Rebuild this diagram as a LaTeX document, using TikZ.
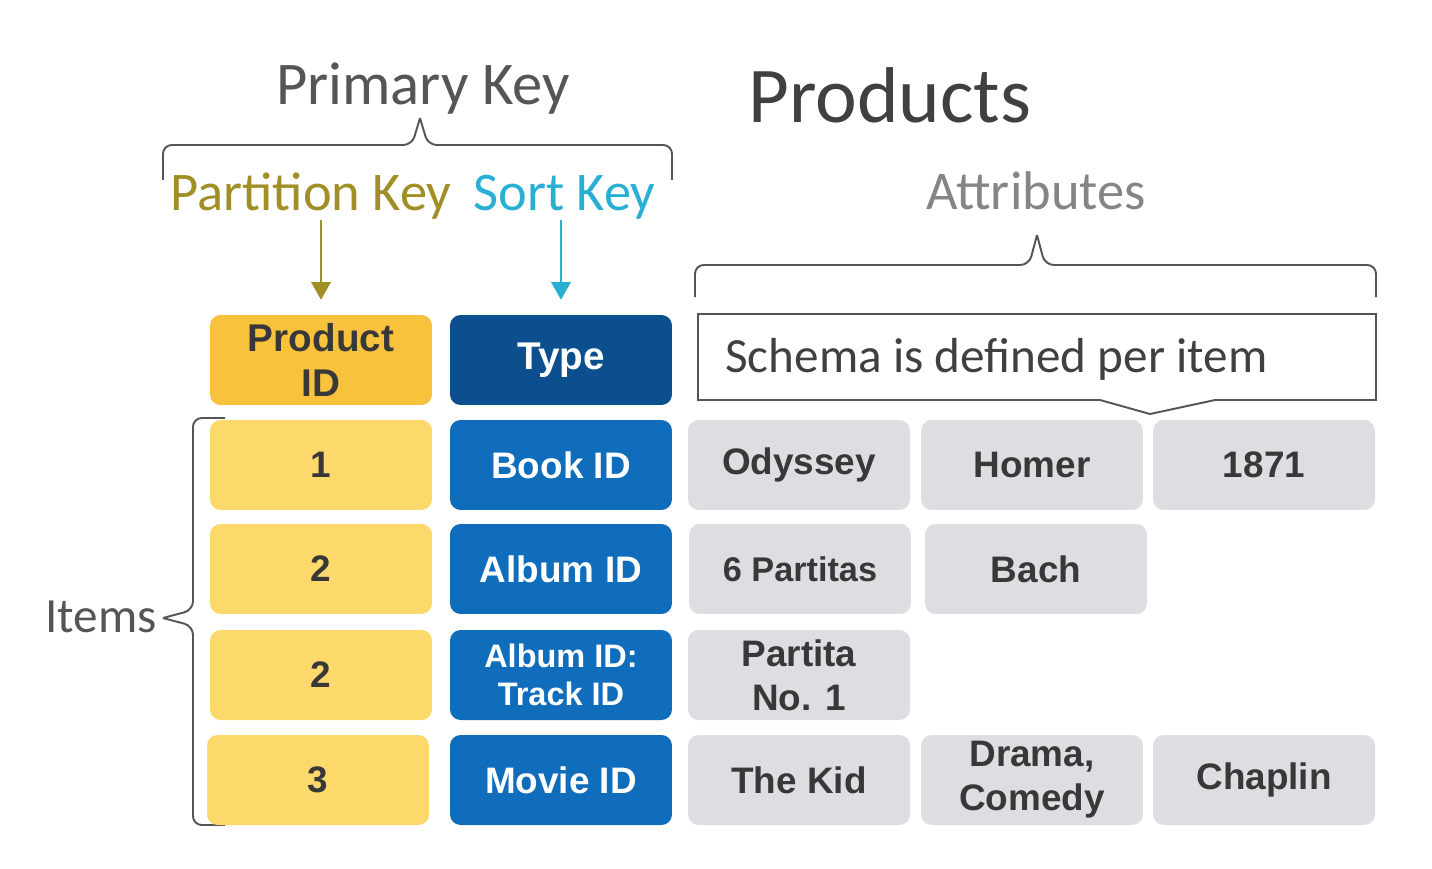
\documentclass[tikz,border=0pt]{standalone}
\usepackage{fontspec}
\setmainfont{Carlito}
\newfontfamily\arialfont{Liberation Sans}
\usetikzlibrary{arrows.meta}
\definecolor{headyellow}{HTML}{F8C23C}
\definecolor{rowyellow}{HTML}{FDD96B}
\definecolor{headblue}{HTML}{0B4F8E}
\definecolor{rowblue}{HTML}{0F6DBC}
\definecolor{cellgray}{HTML}{DEDDE1}
\definecolor{celltext}{HTML}{383838}
\definecolor{partolive}{HTML}{A08E26}
\definecolor{sortteal}{HTML}{2AAFD4}
\definecolor{bracegray}{HTML}{555555}
\begin{document}
\begin{tikzpicture}[x=0.02cm,y=-0.02cm,
  cell/.style={rounded corners=6pt,minimum width=4.44cm,minimum height=1.8cm,inner sep=0pt,align=center,
    font=\arialfont\bfseries\fontsize{21}{25}\selectfont,text=celltext},
  pidcell/.style={cell,fill=rowyellow},
  typecell/.style={cell,fill=rowblue,text=white},
  attrcell/.style={cell,fill=cellgray},
  label/.style={inner sep=0pt,font=\fontsize{31}{36}\selectfont},
  brace/.style={draw=bracegray,line width=1.1pt,rounded corners=5pt},
  keyarrow/.style={-{Triangle[width=11pt,length=10pt]},line width=1.3pt}]
  \useasboundingbox (0,0) rectangle (1432,868);
  \node[label,anchor=base,text=bracegray,font=\fontsize{34.5}{40}\selectfont] (pk) at (423,105) {Primary Key};
  \node[label,anchor=base west,text=black!75,font=\fontsize{45}{52}\selectfont] (products) at (748,123) {Products};
  \node[label,anchor=base,text=partolive] (pkey) at (311,211) {Partition Key};
  \node[label,anchor=base west,text=sortteal] (skey) at (473,211) {Sort Key};
  \node[label,anchor=base,text=black!48] (attrs) at (1036,210) {Attributes};
  \node[label,anchor=base east,text=bracegray,font=\fontsize{28}{32}\selectfont] (items) at (157,632) {Items};
  \draw[brace] (163,180) -- (163,145) -- (412,145) -- (420,118);
  \draw[brace] (420,118) -- (428,145) -- (672,145) -- (672,180);
  \draw[brace] (695,297) -- (695,265) -- (1029,265) -- (1037,235);
  \draw[brace] (1037,235) -- (1045,265) -- (1376,265) -- (1376,297);
  \draw[brace] (225,418) -- (193,418) -- (193,610) -- (163,618);
  \draw[brace] (163,618) -- (193,626) -- (193,825) -- (225,825);
  \node[cell,fill=headyellow,font=\arialfont\bfseries\fontsize{22}{25.5}\selectfont] (prodid) at (321,360) {Product\\ID};
  \node[cell,fill=headblue,text=white,font=\arialfont\bfseries\fontsize{22}{25.5}\selectfont] (type) at (561,360) {Type};
  \draw[line width=1.1pt,draw=bracegray] (698,314) -- (1376,314) -- (1376,400) -- (1215,400) -- (1150,414) -- (1100,400) -- (698,400) -- cycle;
  \node[inner sep=0pt,anchor=base west,text=black!75,font=\fontsize{28}{32}\selectfont] (schema) at (725,372) {Schema is defined per item};
  \draw[keyarrow,draw=partolive,fill=partolive] (pkey.south -| prodid.north) -- ([yshift=8.5pt]prodid.north);
  \draw[keyarrow,draw=sortteal,fill=sortteal] (skey.south -| type.north) -- ([yshift=8.5pt]type.north);
  \node[pidcell] (pid1) at (321,465) {1};
  \node[pidcell] (pid2) at (321,569) {2};
  \node[pidcell] (pid3) at (321,675) {2};
  \node[pidcell] (pid4) at (318,780) {3};
  \node[typecell] (type1) at (561,465) {Book ID};
  \node[typecell] (type2) at (561,569) {Album\hspace{0.3em}ID};
  \node[typecell,font=\arialfont\bfseries\fontsize{18.5}{22}\selectfont] (type3) at (561,675) {Album ID:\\Track ID};
  \node[typecell] (type4) at (561,780) {Movie ID};
  \node[attrcell] (title1) at (799,465) {Odyssey};
  \node[attrcell] (creator1) at (1032,465) {Homer};
  \node[attrcell] (year1) at (1264,465) {1871};
  \node[attrcell,font=\arialfont\bfseries\fontsize{19.5}{25}\selectfont] (title2) at (800,569) {6 Partitas};
  \node[attrcell] (creator2) at (1036,569) {Bach};
  \node[attrcell] (title3) at (799,675) {Partita\\No. 1};
  \node[attrcell] (title4) at (799,780) {The Kid};
  \node[attrcell] (genre4) at (1032,780) {Drama,\\Comedy};
  \node[attrcell] (actor4) at (1264,780) {Chaplin};
\end{tikzpicture}
\end{document}
